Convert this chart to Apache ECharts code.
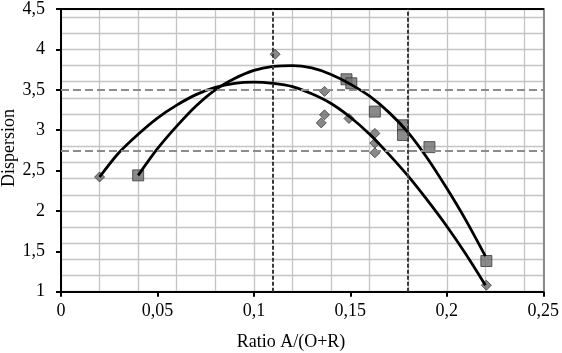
<!DOCTYPE html>
<html>
<head>
<meta charset="utf-8">
<script src="https://cdn.jsdelivr.net/npm/echarts@6/dist/echarts.min.js"></script>
<style>
html,body{margin:0;padding:0;background:#fff;}
#c{width:562px;height:353px;}
</style>
</head>
<body>
<div id="c"></div>
<script>
// Scatter points
const diamondX = [0.02, 0.111, 0.1366, 0.1366, 0.1349, 0.1493, 0.1627, 0.1627, 0.1627, 0.2205];
const diamondY = [2.42, 3.94, 3.48, 3.19, 3.09, 3.145, 2.96, 2.84, 2.72, 1.08];
const squareX = [0.04, 0.148, 0.1505, 0.1627, 0.1773, 0.1773, 0.191, 0.2205];
const squareY = [2.44, 3.63, 3.58, 3.23, 3.06, 2.94, 2.79, 1.38];

// Trend curves (one reading every 0.01 on x)
const curveAX = [0.02, 0.03, 0.04, 0.05, 0.06, 0.07, 0.08, 0.09, 0.10, 0.11, 0.12, 0.13, 0.14, 0.15, 0.16, 0.17, 0.18, 0.19, 0.20, 0.21, 0.22];
const curveAY = [2.42, 2.72, 2.95, 3.15, 3.31, 3.44, 3.53, 3.58, 3.595, 3.58, 3.54, 3.45, 3.33, 3.16, 2.95, 2.70, 2.43, 2.13, 1.81, 1.46, 1.08];
const curveBX = [0.04, 0.05, 0.06, 0.07, 0.08, 0.09, 0.10, 0.11, 0.12, 0.13, 0.14, 0.15, 0.16, 0.17, 0.18, 0.19, 0.20, 0.21, 0.22];
const curveBY = [2.44, 2.77, 3.05, 3.30, 3.50, 3.64, 3.74, 3.79, 3.80, 3.77, 3.69, 3.57, 3.42, 3.22, 2.97, 2.65, 2.28, 1.88, 1.44];

// Reference lines
const hRefs = [3.5, 2.74];
const vRefs = [0.11, 0.18];

// Axis ticks
const xTicks = {min: 0, max: 0.25, interval: 0.05};
const yTicks = {min: 1, max: 4.5, interval: 0.5};
const xGrid = 0.02;
const yGrid = 0.2;

const xTitle = 'Ratio A/(O+R)';
const yTitle = 'Dispersion';

const zip = (xs, ys) => xs.map((x, i) => [x, ys[i]]);
const fmt = v => String(Math.round(v * 1000) / 1000).replace('.', ',');
const FONT = 'Liberation Serif';

const chart = echarts.init(document.getElementById('c'));
chart.setOption({
  backgroundColor: '#ffffff',
  animation: false,
  grid: {left: 61, top: 6, width: 485.5, height: 285.7},
  xAxis: [
    {
      type: 'value', min: xTicks.min, max: xTicks.max, interval: xTicks.interval,
      position: 'bottom',
      axisLine: {show: true, onZero: false, lineStyle: {color: '#000', width: 2}},
      axisTick: {show: true, length: 5, lineStyle: {color: '#000', width: 2}},
      axisLabel: {color: '#000', fontFamily: FONT, fontSize: 18, margin: 11, formatter: fmt},
      splitLine: {show: false}
    },
    {
      type: 'value', min: xTicks.min, max: xTicks.max, interval: xGrid,
      position: 'top',
      axisLine: {show: true, onZero: false, lineStyle: {color: '#000', width: 2}},
      axisTick: {show: false}, axisLabel: {show: false},
      splitLine: {show: true, lineStyle: {color: '#c4c4c4', width: 1.3}}
    }
  ],
  yAxis: [
    {
      type: 'value', min: yTicks.min, max: yTicks.max, interval: yTicks.interval,
      position: 'left',
      axisLine: {show: true, onZero: false, lineStyle: {color: '#000', width: 2}},
      axisTick: {show: true, length: 5, lineStyle: {color: '#000', width: 2}},
      axisLabel: {color: '#000', fontFamily: FONT, fontSize: 18, margin: 16, formatter: fmt},
      splitLine: {show: false}
    },
    {
      type: 'value', min: yTicks.min, max: yTicks.max, interval: yGrid,
      position: 'right',
      axisLine: {show: true, onZero: false, lineStyle: {color: '#8a8a8a', width: 2}},
      axisTick: {show: false}, axisLabel: {show: false},
      splitLine: {show: true, lineStyle: {color: '#c4c4c4', width: 1.3}}
    }
  ],
  graphic: [
    {type: 'text', x: 291, y: 342, style: {text: xTitle, fontFamily: FONT, fontSize: 18, fill: '#000', textAlign: 'center', textVerticalAlign: 'middle'}},
    {type: 'text', x: 9, y: 148, rotation: Math.PI / 2, style: {text: yTitle, fontFamily: FONT, fontSize: 18, fill: '#000', textAlign: 'center', textVerticalAlign: 'middle'}}
  ],
  series: [
    {
      type: 'line', xAxisIndex: 0, yAxisIndex: 0, data: [], z: 1,
      markLine: {
        silent: true, symbol: ['none', 'none'], label: {show: false},
        data: hRefs.map(v => ({yAxis: v, lineStyle: {color: '#8c8c8c', width: 2, type: [8, 4]}}))
          .concat(vRefs.map(v => ({xAxis: v, lineStyle: {color: '#3a3a3a', width: 2, type: [4, 2]}})))
      }
    },
    {
      type: 'scatter', xAxisIndex: 0, yAxisIndex: 0, symbol: 'diamond', symbolSize: 10, z: 3,
      itemStyle: {color: '#6a6a6a', borderColor: '#3c3c3c', borderWidth: 1},
      data: zip(diamondX, diamondY)
    },
    {
      type: 'scatter', xAxisIndex: 0, yAxisIndex: 0, symbol: 'rect', symbolSize: 11, z: 3,
      itemStyle: {color: '#6e6e6e', borderColor: '#3c3c3c', borderWidth: 1},
      data: zip(squareX, squareY)
    },
    {
      type: 'line', xAxisIndex: 0, yAxisIndex: 0, smooth: 0.3, showSymbol: false, symbol: 'none', z: 4,
      lineStyle: {color: '#000', width: 2.8},
      data: zip(curveAX, curveAY)
    },
    {
      type: 'line', xAxisIndex: 0, yAxisIndex: 0, smooth: 0.3, showSymbol: false, symbol: 'none', z: 4,
      lineStyle: {color: '#000', width: 2.8},
      data: zip(curveBX, curveBY)
    }
  ]
});
</script>
</body>
</html>
